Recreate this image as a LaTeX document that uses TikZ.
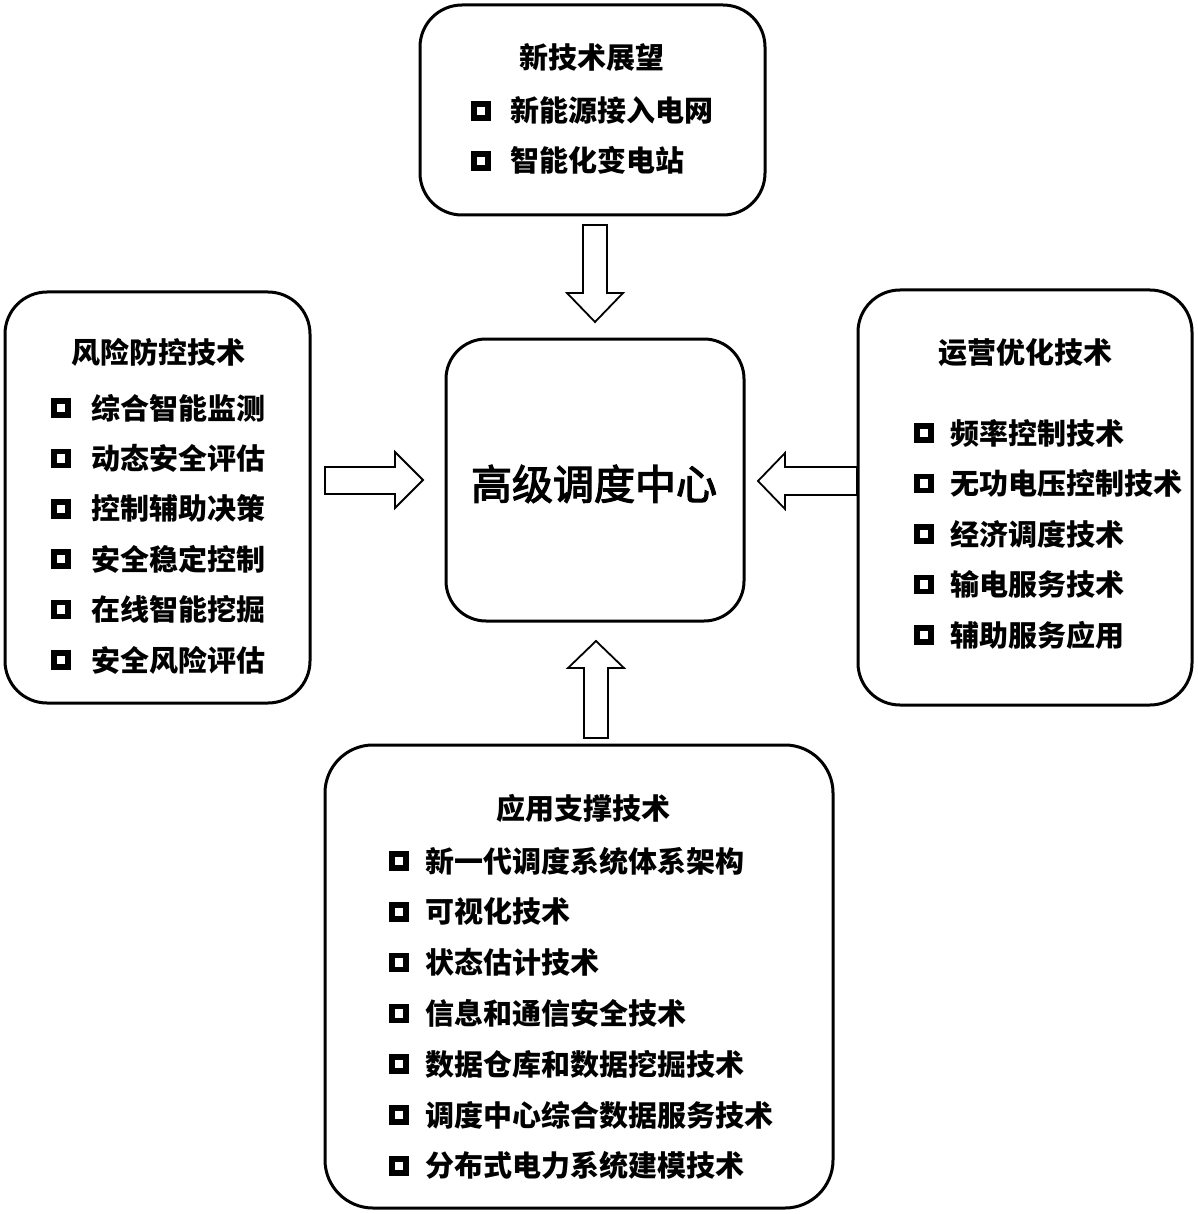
\documentclass[tikz,border=0pt]{standalone}
\usepackage{fontspec}
\setmainfont{Noto Sans CJK SC}
\newfontfamily\cjkmed{Noto Sans CJK SC}[FakeBold=3]
\begin{document}
\begin{tikzpicture}[x=1pt,y=-1pt,
  box/.style={draw,line width=3pt,rounded corners=42pt,inner sep=0pt},
  ttl/.style={font=\fontsize{29}{29}\selectfont\bfseries,inner sep=0pt,text height=25.5pt,text depth=3.5pt},
  itm/.style={font=\fontsize{29}{29}\selectfont\bfseries,inner sep=0pt,anchor=west,text height=25.5pt,text depth=3.5pt},
  chk/.style={draw,line width=5.5pt,minimum size=14pt,inner sep=0pt},
  barrow/.style={draw,line width=1.8pt,fill=white,line join=miter}]
\useasboundingbox (0,0) rectangle (1197,1214);
% boxes
\node[box,minimum width=345pt,minimum height=210pt] (top) at (592.5,110) {};
\node[box,minimum width=305pt,minimum height=411pt] (left) at (157.5,497.5) {};
\node[box,minimum width=334pt,minimum height=415pt] (right) at (1025,497.5) {};
\node[box,minimum width=298pt,minimum height=282pt,rounded corners=40pt] (center) at (595,480) {};
\node[box,minimum width=508pt,minimum height=463pt,rounded corners=48pt] (bottom) at (579,976.5) {};
% titles
\node[ttl] (ttop) at (592,58) {新技术展望};
\node[ttl] (tleft) at (158,352) {风险防控技术};
\node[ttl] (tright) at (1025,352) {运营优化技术};
\node[ttl] (tbottom) at (583,808) {应用支撑技术};
\node[font=\fontsize{41}{41}\selectfont\cjkmed,inner sep=0pt,text height=36pt,text depth=5pt] (tcenter) at (594,484) {高级调度中心};
% items
\foreach \t [count=\i] in {新能源接入电网,智能化变电站}{
  \pgfmathsetmacro\yy{111+50*(\i-1)}
  \node[chk] (ct\i) at (481,\yy) {};
  \node[itm] (it\i) at (510,\yy) {\t};
}
\foreach \t [count=\i] in {综合智能监测,动态安全评估,控制辅助决策,安全稳定控制,在线智能挖掘,安全风险评估}{
  \pgfmathsetmacro\yy{408+50.4*(\i-1)}
  \node[chk] (cl\i) at (61,\yy) {};
  \node[itm] (il\i) at (91,\yy) {\t};
}
\foreach \t [count=\i] in {频率控制技术,无功电压控制技术,经济调度技术,输电服务技术,辅助服务应用}{
  \pgfmathsetmacro\yy{433+50.5*(\i-1)}
  \node[chk] (cr\i) at (924,\yy) {};
  \node[itm] (ir\i) at (950,\yy) {\t};
}
\foreach \t [count=\i] in {新一代调度系统体系架构,可视化技术,状态估计技术,信息和通信安全技术,数据仓库和数据挖掘技术,调度中心综合数据服务技术,分布式电力系统建模技术}{
  \pgfmathsetmacro\yy{861+50.8*(\i-1)}
  \node[chk] (cb\i) at (399,\yy) {};
  \node[itm] (ib\i) at (425,\yy) {\t};
}
% block arrows
\draw[barrow] (583,225) -- (607,225) -- (607,293) -- (623,293) -- (595,322) -- (567,293) -- (583,293) -- cycle;
\draw[barrow] (325,467) -- (395,467) -- (395,452) -- (423,480) -- (395,508) -- (395,494) -- (325,494) -- cycle;
\draw[barrow] (857,467) -- (785,467) -- (785,453) -- (758,481) -- (785,509) -- (785,495) -- (857,495) -- cycle;
\draw[barrow] (584,738) -- (608,738) -- (608,668) -- (624,668) -- (596,641) -- (568,668) -- (584,668) -- cycle;
\end{tikzpicture}
\end{document}
